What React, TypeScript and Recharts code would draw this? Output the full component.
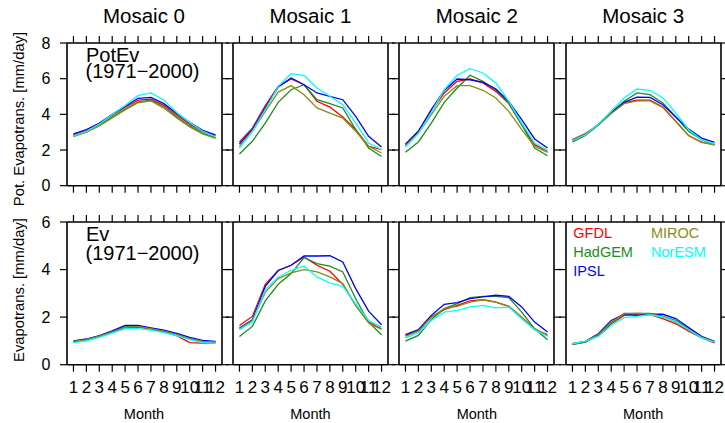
import { LineChart, Line, XAxis, YAxis } from "recharts";

const months = [1, 2, 3, 4, 5, 6, 7, 8, 9, 10, 11, 12];
const mosaics = ["Mosaic 0", "Mosaic 1", "Mosaic 2", "Mosaic 3"];
const models = ["GFDL", "HadGEM", "IPSL", "MIROC", "NorESM"];
const modelColors = ["#ff0000", "#1e8c1e", "#0000ff", "#8b8b14", "#00ffff"];
const potTicks = [0, 2, 4, 6, 8];
const evTicks = [0, 2, 4, 6];

// potential evapotranspiration, one row per mosaic
const potGFDL = [
  [2.85, 3.1, 3.5, 3.95, 4.4, 4.8, 4.85, 4.5, 3.95, 3.45, 3.05, 2.8],
  [2.45, 3.23, 4.49, 5.57, 5.98, 5.66, 4.73, 4.41, 3.85, 3.14, 2.21, 2.02],
  [2.34, 3.05, 4.17, 5.2, 5.85, 5.98, 5.76, 5.29, 4.6, 3.42, 2.3, 1.93],
  [2.58, 2.92, 3.42, 4.07, 4.64, 4.79, 4.79, 4.41, 3.61, 2.81, 2.43, 2.3],
];
const potHadGEM = [
  [2.8, 3.0, 3.4, 3.85, 4.3, 4.7, 4.8, 4.4, 3.85, 3.35, 2.95, 2.7],
  [1.78, 2.49, 3.51, 4.67, 5.38, 5.66, 4.82, 4.6, 4.36, 3.14, 2.11, 1.64],
  [1.87, 2.45, 3.51, 4.67, 5.48, 6.19, 5.85, 5.38, 4.64, 3.42, 2.11, 1.68],
  [2.45, 2.81, 3.42, 4.07, 4.73, 5.2, 5.1, 4.64, 3.85, 3.04, 2.58, 2.3],
];
const potIPSL = [
  [2.9, 3.15, 3.5, 4.0, 4.45, 4.9, 4.95, 4.6, 4.05, 3.55, 3.1, 2.85],
  [2.34, 3.14, 4.36, 5.53, 6.04, 5.66, 5.2, 5.01, 4.82, 3.89, 2.77, 2.17],
  [2.3, 3.05, 4.26, 5.34, 5.98, 5.94, 5.79, 5.42, 4.73, 3.7, 2.62, 2.11],
  [2.52, 2.84, 3.42, 4.1, 4.67, 4.97, 4.95, 4.54, 3.85, 3.17, 2.67, 2.43],
];
const potMIROC = [
  [2.75, 3.0, 3.35, 3.8, 4.25, 4.65, 4.75, 4.35, 3.8, 3.3, 2.9, 2.65],
  [2.21, 3.05, 4.17, 5.25, 5.61, 5.1, 4.36, 4.07, 3.79, 3.05, 2.21, 1.83],
  [2.24, 2.95, 3.98, 5.01, 5.61, 5.61, 5.35, 4.92, 4.17, 3.14, 2.21, 1.87],
  [2.55, 2.9, 3.42, 4.05, 4.6, 4.75, 4.75, 4.38, 3.6, 2.8, 2.45, 2.28],
];
const potNorESM = [
  [2.8, 3.05, 3.45, 4.0, 4.5, 5.05, 5.2, 4.8, 4.1, 3.55, 3.05, 2.75],
  [2.11, 3.05, 4.26, 5.57, 6.28, 6.19, 5.48, 5.01, 4.54, 3.51, 2.39, 2.02],
  [2.17, 2.92, 4.11, 5.38, 6.19, 6.56, 6.32, 5.76, 4.73, 3.51, 2.39, 1.98],
  [2.52, 2.84, 3.46, 4.17, 4.92, 5.42, 5.35, 4.92, 4.07, 3.14, 2.58, 2.34],
];

// actual evapotranspiration
const evGFDL = [
  [0.97, 1.05, 1.2, 1.38, 1.55, 1.58, 1.5, 1.38, 1.22, 0.93, 0.91, 0.91],
  [1.65, 2.03, 3.38, 3.96, 4.18, 4.53, 4.18, 3.93, 3.38, 2.49, 1.79, 1.51],
  [1.23, 1.41, 2.0, 2.31, 2.49, 2.68, 2.73, 2.63, 2.45, 2.0, 1.51, 1.23],
  [0.85, 0.95, 1.23, 1.72, 2.07, 2.12, 2.1, 1.94, 1.72, 1.41, 1.13, 0.92],
];
const evHadGEM = [
  [0.95, 1.03, 1.18, 1.38, 1.6, 1.6, 1.52, 1.4, 1.27, 1.1, 0.98, 0.95],
  [1.19, 1.61, 2.68, 3.38, 3.83, 4.5, 4.25, 4.14, 3.9, 2.77, 1.79, 1.26],
  [0.99, 1.23, 1.89, 2.36, 2.57, 2.82, 2.87, 2.87, 2.82, 2.21, 1.51, 1.05],
  [0.85, 0.95, 1.26, 1.74, 2.16, 2.16, 2.16, 2.03, 1.86, 1.51, 1.16, 0.95],
];
const evIPSL = [
  [1.0, 1.08, 1.22, 1.42, 1.65, 1.65, 1.55, 1.45, 1.32, 1.15, 1.02, 0.98],
  [1.54, 1.89, 3.29, 3.96, 4.18, 4.57, 4.57, 4.58, 4.32, 3.2, 2.25, 1.68],
  [1.26, 1.47, 2.07, 2.54, 2.61, 2.78, 2.85, 2.92, 2.87, 2.43, 1.79, 1.37],
  [0.88, 0.98, 1.3, 1.86, 2.12, 2.07, 2.12, 2.12, 1.94, 1.56, 1.19, 0.98],
];
const evMIROC = [
  [0.98, 1.05, 1.2, 1.38, 1.57, 1.6, 1.52, 1.4, 1.26, 1.1, 0.98, 0.96],
  [1.51, 1.86, 3.05, 3.62, 3.86, 4.0, 3.9, 3.69, 3.41, 2.49, 1.75, 1.48],
  [1.19, 1.41, 2.0, 2.36, 2.45, 2.63, 2.73, 2.63, 2.45, 1.98, 1.47, 1.28],
  [0.88, 0.98, 1.26, 1.79, 2.14, 2.16, 2.14, 2.03, 1.79, 1.47, 1.16, 0.95],
];
const evNorESM = [
  [0.93, 1.0, 1.15, 1.33, 1.52, 1.52, 1.45, 1.35, 1.22, 1.05, 0.93, 0.9],
  [1.47, 1.79, 3.15, 3.69, 3.97, 4.15, 3.69, 3.43, 3.29, 2.56, 1.86, 1.58],
  [1.13, 1.33, 1.86, 2.21, 2.28, 2.43, 2.49, 2.39, 2.42, 1.93, 1.47, 1.19],
  [0.88, 0.98, 1.19, 1.65, 1.98, 2.03, 2.1, 2.0, 1.82, 1.47, 1.13, 0.95],
];

const potSeries = [potGFDL, potHadGEM, potIPSL, potMIROC, potNorESM];
const evSeries = [evGFDL, evHadGEM, evIPSL, evMIROC, evNorESM];

const FONT = "'Liberation Sans', Arial, Helvetica, sans-serif";
const PW = 155;
const PH = 142.7;
const PAD = 60;
const colLeft = [66.5, 232.9, 399.3, 565.7];
const rowTop = [43.3, 221.7];

function buildRows(series: number[][][], mosaic: number) {
  return months.map((m, i) => {
    const row: Record<string, number> = { month: m };
    models.forEach((name, k) => {
      row[name] = series[k][mosaic][i];
    });
    return row;
  });
}

const blank = () => "";

function Panel({
  left,
  top,
  rows,
  yTicks,
  showY,
  showX,
}: {
  left: number;
  top: number;
  rows: Record<string, number>[];
  yTicks: number[];
  showY: boolean;
  showX: boolean;
}) {
  const yMax = yTicks[yTicks.length - 1];
  const line = { stroke: "#000", strokeWidth: 1.6 };
  const tl = { stroke: "#000", strokeWidth: 1.2 };
  const xCommon = {
    dataKey: "month",
    type: "number" as const,
    domain: [0.5, 12.5],
    ticks: months,
    interval: 0,
    allowDataOverflow: true,
    height: PAD,
    tickSize: 7,
    axisLine: line,
    tickLine: tl,
  };
  const yCommon = {
    type: "number" as const,
    domain: [0, yMax],
    ticks: yTicks,
    interval: 0,
    allowDataOverflow: true,
    width: PAD,
    tickSize: 7,
    axisLine: line,
    tickLine: tl,
  };
  return (
    <div style={{ position: "absolute", left: left - PAD, top: top - PAD }}>
      <LineChart
        width={PW + 2 * PAD}
        height={PH + 2 * PAD}
        data={rows}
        margin={{ top: 0, right: 0, bottom: 0, left: 0 }}
      >
        <XAxis
          {...xCommon}
          xAxisId="b"
          orientation="bottom"
          tickMargin={9}
          tick={{ fill: "#000", fontSize: 17 }}
          tickFormatter={showX ? (v: number) => String(v) : blank}
        />
        <XAxis {...xCommon} xAxisId="t" orientation="top" tickFormatter={blank} />
        <YAxis
          {...yCommon}
          yAxisId="l"
          orientation="left"
          tickMargin={9.5}
          tick={{ fill: "#000", fontSize: 16 }}
          tickFormatter={showY ? (v: number) => String(v) : blank}
        />
        <YAxis {...yCommon} yAxisId="r" orientation="right" tickFormatter={blank} />
        {models.map((name, k) => (
          <Line
            key={name}
            xAxisId="b"
            yAxisId="l"
            type="linear"
            dataKey={name}
            stroke={modelColors[k]}
            strokeWidth={1.3}
            dot={false}
            isAnimationActive={false}
          />
        ))}
      </LineChart>
    </div>
  );
}

export default function App() {
  return (
    <div
      style={{
        position: "absolute",
        left: 0,
        top: 0,
        width: 725,
        height: 423,
        background: "#fff",
        fontFamily: FONT,
        overflow: "hidden",
      }}
    >
      {mosaics.map((_, c) => (
        <Panel
          key={"p" + c}
          left={colLeft[c]}
          top={rowTop[0]}
          rows={buildRows(potSeries, c)}
          yTicks={potTicks}
          showY={c === 0}
          showX={false}
        />
      ))}
      {mosaics.map((_, c) => (
        <Panel
          key={"e" + c}
          left={colLeft[c]}
          top={rowTop[1]}
          rows={buildRows(evSeries, c)}
          yTicks={evTicks}
          showY={c === 0}
          showX={true}
        />
      ))}
      <svg
        width={725}
        height={423}
        style={{ position: "absolute", left: 0, top: 0, pointerEvents: "none" }}
        fontFamily={FONT}
      >
        {mosaics.map((t, c) => (
          <text key={t} x={colLeft[c] + PW / 2} y={22.7} fontSize={20.5} textAnchor="middle" fill="#000">
            {t}
          </text>
        ))}
        {mosaics.map((t, c) => (
          <text key={"m" + t} x={colLeft[c] + PW / 2} y={419.3} fontSize={14.5} textAnchor="middle" fill="#000">
            Month
          </text>
        ))}
        <text x={86} y={61.7} fontSize={20} fill="#000">PotEv</text>
        <text x={85.5} y={78.3} fontSize={20} fill="#000">(1971−2000)</text>
        <text x={86} y={241} fontSize={20} fill="#000">Ev</text>
        <text x={85.5} y={259.5} fontSize={20} fill="#000">(1971−2000)</text>
        <text transform="translate(24,119) rotate(-90)" fontSize={14.8} textAnchor="middle" fill="#000">
          Pot. Evapotrans. [mm/day]
        </text>
        <text transform="translate(24,290) rotate(-90)" fontSize={14.8} textAnchor="middle" fill="#000">
          Evapotrans. [mm/day]
        </text>
        <text x={573.3} y={238} fontSize={14.5} fill={modelColors[0]}>{models[0]}</text>
        <text x={573.3} y={257} fontSize={14.5} fill={modelColors[1]}>{models[1]}</text>
        <text x={573.3} y={276} fontSize={14.5} fill={modelColors[2]}>{models[2]}</text>
        <text x={651} y={238} fontSize={14.5} fill={modelColors[3]}>{models[3]}</text>
        <text x={651} y={257} fontSize={14.5} fill={modelColors[4]}>{models[4]}</text>
      </svg>
    </div>
  );
}
